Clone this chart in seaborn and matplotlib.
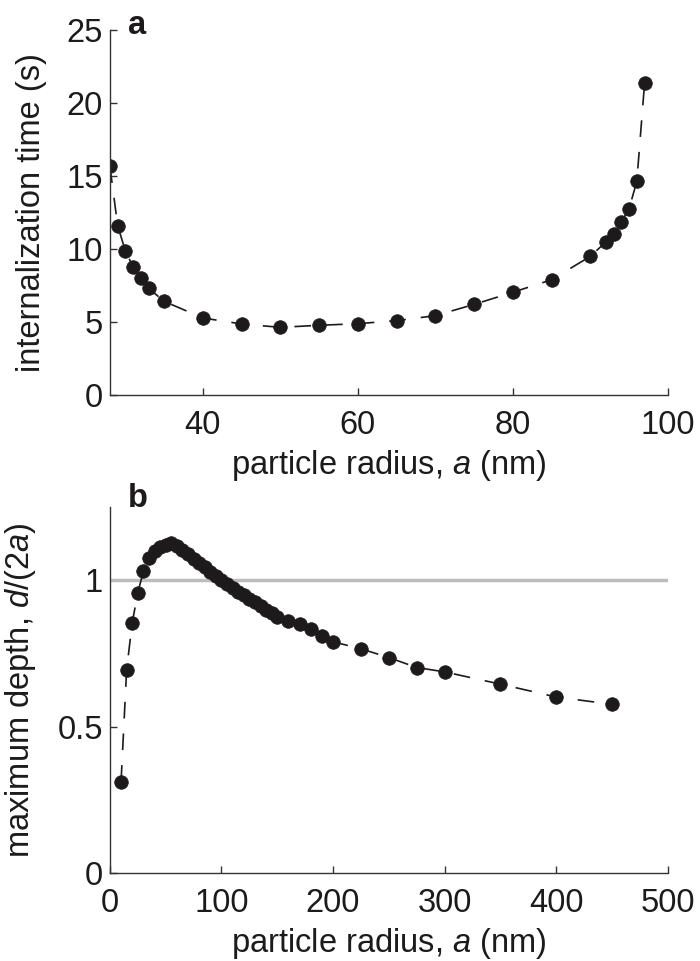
import matplotlib
matplotlib.use('Agg')
import matplotlib.pyplot as plt
import pandas as pd
import seaborn as sns

# panel a: internalization time vs particle radius
radius_a = [28, 29, 30, 31, 32, 33, 35, 40, 45, 50, 55, 60, 65, 70, 75, 80, 85,
            90, 92, 93, 94, 95, 96, 97]
time_a = [15.65, 11.6, 9.85, 8.78, 7.98, 7.3, 6.41, 5.27, 4.86, 4.63, 4.77, 4.88,
          5.09, 5.43, 6.2, 7.03, 7.89, 9.49, 10.47, 10.99, 11.84, 12.75, 14.62, 21.33]

# panel b: maximum depth vs particle radius
radius_b = [10, 15, 20, 25, 30, 35, 40, 45, 50, 55, 60, 65, 70, 75, 80, 85, 90, 95,
            100, 105, 110, 115, 120, 125, 130, 135, 140, 145, 150, 160, 170, 180,
            190, 200, 225, 250, 275, 300, 350, 400, 450]
depth_b = [0.311, 0.695, 0.855, 0.958, 1.031, 1.076, 1.10, 1.113, 1.12, 1.128,
           1.118, 1.103, 1.09, 1.075, 1.06, 1.045, 1.03, 1.015, 1.0, 0.987, 0.975,
           0.962, 0.95, 0.937, 0.925, 0.912, 0.9, 0.888, 0.876, 0.861, 0.85, 0.835,
           0.81, 0.79, 0.766, 0.736, 0.702, 0.687, 0.645, 0.601, 0.576]

df_a = pd.DataFrame({'radius': radius_a, 'time': time_a})
df_b = pd.DataFrame({'radius': radius_b, 'depth': depth_b})

sns.set_style('ticks')
plt.rcParams['font.family'] = ['Liberation Sans', 'DejaVu Sans']
plt.rcParams['mathtext.fontset'] = 'custom'
plt.rcParams['mathtext.rm'] = 'Liberation Sans'
plt.rcParams['mathtext.it'] = 'Liberation Sans:italic'
plt.rcParams['xtick.direction'] = 'in'
plt.rcParams['ytick.direction'] = 'in'

dark = '#1c1a1b'
axis_col = '#333333'
fs = 23.5

fig = plt.figure(figsize=(7, 9.61), dpi=100)
ax1 = fig.add_axes([0.157, 0.589, 0.797, 0.380])
ax2 = fig.add_axes([0.157, 0.092, 0.797, 0.380])

line_kw = dict(color=dark, linewidth=1.2, linestyle=(0, (10, 9)),
               marker='o', markersize=9.8, markeredgecolor=dark,
               markerfacecolor=dark, markeredgewidth=0.5)

sns.lineplot(data=df_a, x='radius', y='time', ax=ax1, **line_kw)
ax1.set_xlim(28, 100)
ax1.set_ylim(0, 25)
ax1.set_xticks([40, 60, 80, 100])
ax1.set_yticks([0, 5, 10, 15, 20, 25])
ax1.set_xlabel(r'particle radius, $\mathit{a}$ (nm)', fontsize=fs)
ax1.set_ylabel('internalization time (s)', fontsize=fs)

ax2.axhline(1, color='#bdbdbd', linewidth=2.5, zorder=1)
sns.lineplot(data=df_b, x='radius', y='depth', ax=ax2, zorder=3, **line_kw)
ax2.set_xlim(0, 500)
ax2.set_ylim(0, 1.25)
ax2.set_xticks([0, 100, 200, 300, 400, 500])
ax2.set_yticks([0, 0.5, 1])
ax2.set_yticklabels(['0', '0.5', '1'])
ax2.set_xlabel(r'particle radius, $\mathit{a}$ (nm)', fontsize=fs)
ax2.set_ylabel(r'maximum depth, $\mathit{d}$/(2$\mathit{a}$)', fontsize=fs)

for ax in (ax1, ax2):
    sns.despine(ax=ax)
    for side in ('left', 'bottom'):
        ax.spines[side].set_color(axis_col)
        ax.spines[side].set_linewidth(1.0)
    ax.tick_params(labelsize=fs, length=5, width=1.0, color=axis_col,
                   colors=dark, pad=5)
    ax.tick_params(axis='x', pad=11)
    ax.xaxis.label.set_color(dark)
    ax.yaxis.label.set_color(dark)
    ax.xaxis.labelpad = 5
    ax.yaxis.labelpad = 14

fig.text(0.183, 0.990, 'a', fontsize=fs, fontweight='bold', color=dark, va='top')
fig.text(0.183, 0.497, 'b', fontsize=fs, fontweight='bold', color=dark, va='top')

fig.savefig('out.png', dpi=100)
